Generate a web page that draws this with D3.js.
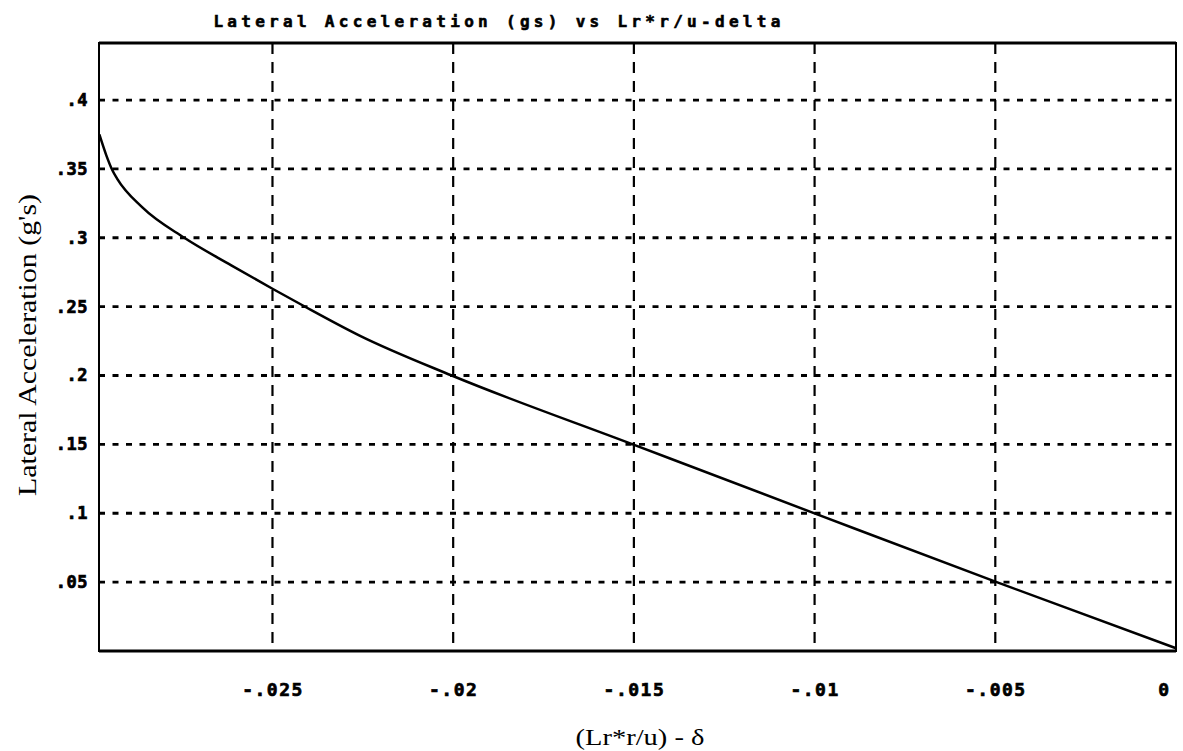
<!DOCTYPE html>
<html><head><meta charset="utf-8">
<script src="https://cdn.jsdelivr.net/npm/d3@7/dist/d3.min.js"></script>
<style>body{margin:0;background:#fff}</style>
</head><body>
<svg id="c" width="1183" height="751"></svg>
<script>
const title = "Lateral Acceleration (gs) vs Lr*r/u-delta";
const xLabel = "(Lr*r/u) - δ";
const yLabel = "Lateral Acceleration (g's)";
const xTicks = [-0.025, -0.02, -0.015, -0.01, -0.005, 0];
const xTickLabels = ["-.025", "-.02", "-.015", "-.01", "-.005", "0"];
const yTicks = [0.05, 0.1, 0.15, 0.2, 0.25, 0.3, 0.35, 0.4];
const yTickLabels = [".05", ".1", ".15", ".2", ".25", ".3", ".35", ".4"];
const xVals = [-0.02979, -0.02960, -0.02943, -0.02930, -0.02860, -0.02744, -0.02614, -0.02500, -0.02417, -0.02259, -0.02004, -0.01503, -0.00991, -0.00496, 0];
const yVals = [0.375, 0.360, 0.349, 0.343, 0.322, 0.300, 0.280, 0.263, 0.251, 0.229, 0.200, 0.150, 0.099, 0.050, 0.002];

const svg = d3.select("#c");
const L = 99, R = 1176, T = 43, B = 651;
const x = d3.scaleLinear().domain([-0.0298, 0]).range([L, R]);
const y = d3.scaleLinear().domain([0, 0.4414]).range([B, T]);

// grid
svg.append("g").selectAll("line").data(yTicks).join("line")
  .attr("x1", L).attr("x2", R).attr("y1", d => y(d)).attr("y2", d => y(d))
  .attr("stroke", "#000").attr("stroke-width", 2.8).attr("stroke-dasharray", "6,7.5");
svg.append("g").selectAll("line").data(xTicks.filter(d => d < 0)).join("line")
  .attr("x1", d => x(d)).attr("x2", d => x(d)).attr("y1", T).attr("y2", B)
  .attr("stroke", "#000").attr("stroke-width", 2.2).attr("stroke-dasharray", "11,8");

// frame
svg.append("rect").attr("x", L).attr("y", T).attr("width", R - L).attr("height", B - T)
  .attr("fill", "none").attr("stroke", "#000").attr("stroke-width", 2);
svg.append("line").attr("x1", L).attr("x2", R).attr("y1", B).attr("y2", B)
  .attr("stroke", "#000").attr("stroke-width", 3);
svg.append("line").attr("x1", L).attr("x2", R).attr("y1", T).attr("y2", T)
  .attr("stroke", "#000").attr("stroke-width", 3);

// axes labels via d3 axes
const xAxis = d3.axisBottom(x).tickValues(xTicks).tickSize(0).tickPadding(0)
  .tickFormat((d, i) => xTickLabels[i]);
const gx = svg.append("g").attr("transform", `translate(0,${B + 32})`).call(xAxis);
gx.select(".domain").remove();
gx.selectAll("text").attr("font-family", "DejaVu Sans Mono").attr("font-weight", "bold")
  .attr("font-size", 18).attr("fill", "#000").attr("stroke", "#000").attr("stroke-width", 0.7)
  .attr("letter-spacing", "1.5px");
gx.selectAll(".tick").filter(d => d === 0).select("text").attr("dx", -12);

const yAxis = d3.axisLeft(y).tickValues(yTicks).tickSize(0).tickPadding(0)
  .tickFormat((d, i) => yTickLabels[i]);
const gy = svg.append("g").attr("transform", `translate(${L - 11},0)`).call(yAxis);
gy.select(".domain").remove();
gy.selectAll("text").attr("font-family", "DejaVu Sans Mono").attr("font-weight", "bold")
  .attr("font-size", 17).attr("fill", "#000").attr("stroke", "#000").attr("stroke-width", 0.7)
  .attr("letter-spacing", "0.5px");

// curve
const pts = xVals.map((v, i) => [v, yVals[i]]);
svg.append("path").datum(pts)
  .attr("d", d3.line().x(d => x(d[0])).y(d => y(d[1])).curve(d3.curveMonotoneX))
  .attr("fill", "none").attr("stroke", "#000").attr("stroke-width", 2.5);

// titles
svg.append("text").attr("x", 499).attr("y", 27).attr("text-anchor", "middle")
  .attr("font-family", "DejaVu Sans Mono").attr("font-weight", "bold").attr("font-size", 16)
  .attr("stroke", "#000").attr("stroke-width", 0.6)
  .attr("letter-spacing", "4.3px").text(title);
svg.append("text").attr("x", 640).attr("y", 745).attr("text-anchor", "middle")
  .attr("font-family", "Liberation Serif").attr("font-size", 24)
  .attr("textLength", 129).attr("lengthAdjust", "spacingAndGlyphs").text(xLabel);
svg.append("text").attr("transform", "translate(36,345) rotate(-90)").attr("text-anchor", "middle")
  .attr("font-family", "Liberation Serif").attr("font-size", 25)
  .attr("textLength", 302).attr("lengthAdjust", "spacingAndGlyphs").text(yLabel);
</script>
</body></html>
